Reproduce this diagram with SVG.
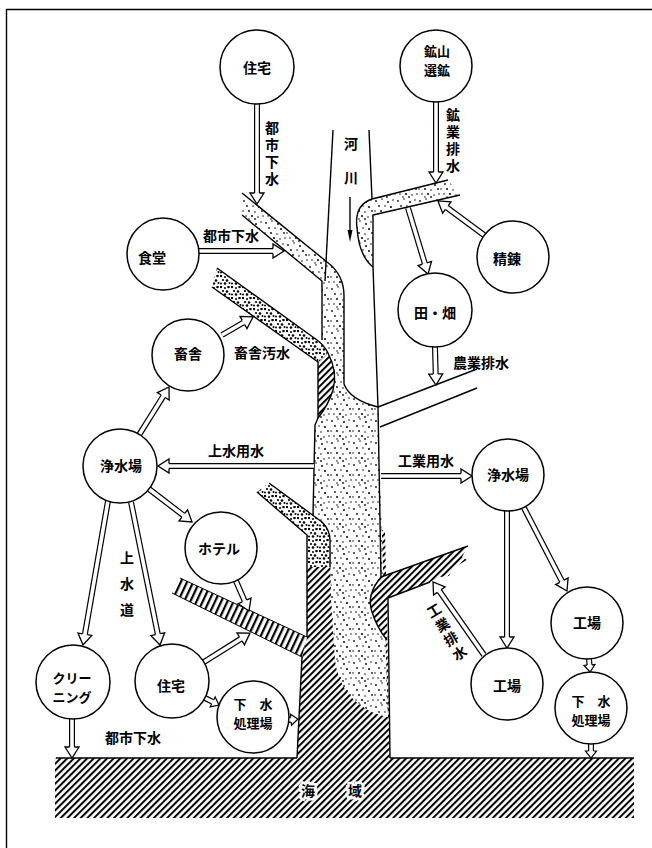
<svg xmlns="http://www.w3.org/2000/svg" width="652" height="848" viewBox="0 0 652 848">
<style>
.ln{fill:none;stroke:#000;stroke-width:1.4;stroke-linejoin:round}
.thin{fill:none;stroke:#000;stroke-width:1}
.node circle{fill:#fff;stroke:#000;stroke-width:1.5}
text{font-family:"Noto Sans CJK JP","Noto Sans CJK SC",sans-serif;font-size:14px;font-weight:700;fill:#000;text-anchor:middle;dominant-baseline:central}
.two{font-size:13px}
.v{writing-mode:vertical-rl}
.arr .o{fill:none;stroke:#000;stroke-width:6}
.arr .i{fill:none;stroke:#fff;stroke-width:3.6}
.sea-t{stroke:#fff;stroke-width:5;paint-order:stroke}
</style>
<defs>
  <!-- diagonal hatching for the sea and the sea-water column -->
  <pattern id="hatch" patternUnits="userSpaceOnUse" width="4.7" height="10" patternTransform="rotate(45)">
    <rect width="4.7" height="10" fill="#fff"/>
    <rect width="2" height="10" fill="#000"/>
  </pattern>
  <!-- steeper, heavier hatching for drain channels -->
  <pattern id="hatchB" patternUnits="userSpaceOnUse" width="5.6" height="10" patternTransform="rotate(25)">
    <rect width="5.6" height="10" fill="#fff"/>
    <rect width="2.2" height="10" fill="#000"/>
  </pattern>
  <!-- stipple for river water -->
  <pattern id="dots" patternUnits="userSpaceOnUse" width="22" height="22">
    <rect width="22" height="22" fill="#fff"/>
    <g fill="#111">
      <circle cx="2" cy="3" r=".9"/><circle cx="8" cy="1" r=".8"/><circle cx="14" cy="4" r="1"/>
      <circle cx="19" cy="2" r=".8"/><circle cx="5" cy="8" r=".9"/><circle cx="11" cy="8" r=".8"/>
      <circle cx="17" cy="9" r="1.1"/><circle cx="1" cy="13" r=".8"/><circle cx="7" cy="13" r="1"/>
      <circle cx="13" cy="14" r=".8"/><circle cx="20" cy="13" r=".9"/><circle cx="4" cy="18" r=".8"/>
      <circle cx="10" cy="18" r="1.1"/><circle cx="16" cy="19" r=".8"/><circle cx="21" cy="18" r=".8"/>
      <circle cx="7" cy="21" r=".8"/><circle cx="13" cy="21" r=".9"/>
    </g>
  </pattern>
  <!-- dense grit for sewage channels -->
  <pattern id="grit" patternUnits="userSpaceOnUse" width="11" height="11">
    <rect width="11" height="11" fill="#fff"/>
    <g fill="#000">
      <circle cx="1" cy="1" r="1.2"/><circle cx="5" cy="2" r="1"/><circle cx="8.5" cy="1" r="1.3"/>
      <circle cx="3" cy="5" r="1.1"/><circle cx="7" cy="5.5" r="1.3"/><circle cx="1" cy="8.5" r="1"/>
      <circle cx="5" cy="8.5" r="1.3"/><circle cx="9.5" cy="8" r="1"/>
    </g>
  </pattern>
  <!-- hollow arrowheads: origin at the head base -->
  <marker id="ah" markerUnits="userSpaceOnUse" orient="auto" refX="0" refY="0" markerWidth="1" markerHeight="1" overflow="visible">
    <path d="M0,-7 L11,0 L0,7 Z" fill="#fff"/>
    <path d="M0,-2.4 L0,-7 L11,0 L0,7 L0,2.4" fill="none" stroke="#000" stroke-width="1.3"/>
  </marker>
  <marker id="ahs" markerUnits="userSpaceOnUse" orient="auto" refX="0" refY="0" markerWidth="1" markerHeight="1" overflow="visible">
    <path d="M0,-5.5 L7,0 L0,5.5 Z" fill="#fff"/>
    <path d="M0,-2.4 L0,-5.5 L7,0 L0,5.5 L0,2.4" fill="none" stroke="#000" stroke-width="1.2"/>
  </marker>
</defs>

<g id="frame">
  <path class="ln" d="M6.5,848 L6.5,9.5 L652,9.5" stroke-width="1.6"/>
</g>

<g id="water">
  <rect x="55" y="758" width="579" height="60" fill="url(#hatch)"/>
  <path d="M297,758 L302,657 L307,637 L307,530 L385,530 L390,758 Z" fill="url(#hatch)"/>
  <path d="M242,193 L327,262 C338,270 344,280 344,296 L344,384 Q350,400 378,407 L383,570 L388,717 C360,712 338,690 335,660 L331,600 L330,540 Q328,528 320,522 L313,515 L315,425 L318,418 L318,362 L322,340 L322,281 L242,215 Z" fill="url(#dots)"/>
  <path d="M372,199 L448,180 L460,195 L373,215 L373,267 Q359,256 357,228 Q354,205 372,199 Z" fill="url(#dots)"/>
  <path d="M217,268 L317,340 Q324,345 328,353 L318,362 L212,287 Z" fill="url(#grit)"/>
  <path d="M269,483 L322,522 Q330,530 330,540 L330,567 L307,567 L307,535 L257,492 Z" fill="url(#grit)"/>
  <path d="M318,362 L328,353 Q338,372 333,390 Q328,406 318,418 Z" fill="url(#hatch)"/>
  <path d="M180,578 L307,637 L302,657 L172,593 Z" fill="url(#hatchB)"/>
  <path d="M381,577 L468,546 L462,557 L467,560 L453,568 L449,576 L440,577 L430,582 L388,598 L387,640 Q377,628 372,612 Q366,595 381,577 Z" fill="url(#hatch)"/>

  <path class="ln" d="M333,130 L325,281"/>
  <path class="ln" d="M369,130 L372,199"/>
  <path class="ln" d="M242,193 L327,262 C338,270 344,280 344,296 L344,384 Q350,400 378,407"/>
  <path class="ln" d="M242,215 L322,281 L322,340"/>
  <path class="ln" d="M372,199 L448,180"/>
  <path class="ln" d="M460,195 L373,215 L373,267 L378,407 L381,577"/>
  <path class="ln" d="M372,199 Q354,205 357,228 Q359,256 373,267"/>
  <path class="ln" d="M378,407 L477,369"/>
  <path class="ln" d="M380,427 L477,388"/>
  <path class="ln" d="M217,268 L317,340 Q324,345 328,353"/>
  <path class="ln" d="M212,287 L318,362 L318,418 L315,425 L313,515"/>
  <path class="ln" d="M328,353 Q338,372 333,390 Q328,406 318,418"/>
  <path class="ln" d="M269,483 L322,522 Q330,530 330,540 L330,567"/>
  <path class="ln" d="M257,492 L307,535 L307,637"/>
  <path class="ln" d="M302,657 L297,758"/>
  <path class="ln" d="M56,758 L297,758 M390,758 L634,758"/>
  <path class="ln" d="M381,577 L468,546"/>
  <path class="ln" d="M381,577 Q366,595 372,612 Q377,628 387,640"/>
  <path class="ln" d="M430,582 L388,598 L390,758"/>
  <path class="thin" d="M180,578 L307,637 M172,593 L302,657"/>
  <!-- river flow arrow -->
  <path class="ln" d="M350,197 L350,232" stroke-width="1.6"/>
  <path d="M347.5,230 L352.5,230 L350,242 Z" fill="#000"/>
  <text class="v" x="351" y="171" style="letter-spacing:20px">河川</text>
  <text class="sea-t"><tspan x="308" y="790">海</tspan><tspan x="355" y="790">域</tspan></text>
</g>

<g id="connectors">
  <g class="arr"><path class="o" d="M257,104 L257,193"/><path class="i" d="M257,104 L257,193" marker-end="url(#ah)"/></g>
  <g class="arr"><path class="o" d="M199,251 L273,251"/><path class="i" d="M199,251 L273,251" marker-end="url(#ah)"/></g>
  <g class="arr"><path class="o" d="M222,335 L243.5,322.5"/><path class="i" d="M222,335 L243.5,322.5" marker-end="url(#ah)"/></g>
  <g class="arr"><path class="o" d="M139.4,434.4 L163.2,396.3"/><path class="i" d="M139.4,434.4 L163.2,396.3" marker-end="url(#ah)"/></g>
  <g class="arr"><path class="o" d="M314,466 L169,466"/><path class="i" d="M314,466 L169,466" marker-end="url(#ah)"/></g>
  <g class="arr"><path class="o" d="M149,489 L183.3,515.3"/><path class="i" d="M149,489 L183.3,515.3" marker-end="url(#ah)"/></g>
  <g class="arr"><path class="o" d="M108,501 L84.9,634.2"/><path class="i" d="M108,501 L84.9,634.2" marker-end="url(#ah)"/></g>
  <g class="arr"><path class="o" d="M131,502 L157.8,634.2"/><path class="i" d="M131,502 L157.8,634.2" marker-end="url(#ah)"/></g>
  <g class="arr"><path class="o" d="M236,581 L244.6,600.9"/><path class="i" d="M236,581 L244.6,600.9" marker-end="url(#ah)"/></g>
  <g class="arr"><path class="o" d="M204,662 L240.7,638.9"/><path class="i" d="M204,662 L240.7,638.9" marker-end="url(#ah)"/></g>
  <g class="arr"><path class="o" d="M205,698 L212.7,701.9"/><path class="i" d="M205,698 L212.7,701.9" marker-end="url(#ahs)"/></g>
  <g class="arr"><path class="o" d="M288,720 L291,719.7"/><path class="i" d="M288,720 L291,719.7" marker-end="url(#ahs)"/></g>
  <g class="arr"><path class="o" d="M72,719 L72,747"/><path class="i" d="M72,719 L72,747" marker-end="url(#ah)"/></g>
  <g class="arr"><path class="o" d="M436,102 L436,172"/><path class="i" d="M436,102 L436,172" marker-end="url(#ah)"/></g>
  <g class="arr"><path class="o" d="M484,235 L446.8,207.5"/><path class="i" d="M484,235 L446.8,207.5" marker-end="url(#ah)"/></g>
  <g class="arr"><path class="o" d="M408,208 L424.8,263.5"/><path class="i" d="M408,208 L424.8,263.5" marker-end="url(#ah)"/></g>
  <g class="arr"><path class="o" d="M435,347 L435.7,374"/><path class="i" d="M435,347 L435.7,374" marker-end="url(#ah)"/></g>
  <g class="arr"><path class="o" d="M381,476 L461,476"/><path class="i" d="M381,476 L461,476" marker-end="url(#ah)"/></g>
  <g class="arr"><path class="o" d="M507,511 L507,637"/><path class="i" d="M507,511 L507,637" marker-end="url(#ah)"/></g>
  <g class="arr"><path class="o" d="M524,508 L561.9,581.2"/><path class="i" d="M524,508 L561.9,581.2" marker-end="url(#ah)"/></g>
  <g class="arr"><path class="o" d="M484,655 L439.3,591"/><path class="i" d="M484,655 L439.3,591" marker-end="url(#ah)"/></g>
  <g class="arr"><path class="o" d="M589,659 L589.5,665"/><path class="i" d="M589,659 L589.5,665" marker-end="url(#ahs)"/></g>
  <g class="arr"><path class="o" d="M591,744 L591,751"/><path class="i" d="M591,744 L591,751" marker-end="url(#ahs)"/></g>

  <!-- flow labels -->
  <text class="v" x="272" y="155" style="letter-spacing:3px">都市下水</text>
  <text x="231" y="235">都市下水</text>
  <text x="262" y="352">畜舎汚水</text>
  <text x="236" y="450">上水用水</text>
  <text x="426" y="460">工業用水</text>
  <text x="481" y="362">農業排水</text>
  <text x="133" y="737">都市下水</text>
  <text class="v" x="453" y="142" style="letter-spacing:3px">鉱業排水</text>
  <text class="v" x="127" y="590" style="letter-spacing:12px">上水道</text>
  <text class="v" transform="translate(447,632) rotate(-31)" x="0" y="1" style="letter-spacing:2.5px">工業排水</text>
</g>

<g id="n-house1" class="node"><circle cx="257" cy="67" r="37"/><text x="257" y="67">住宅</text></g>
<g id="n-mine" class="node"><circle cx="436" cy="66" r="36"/><text class="two"><tspan x="437" y="50">鉱山</tspan><tspan x="437" y="69">選鉱</tspan></text></g>
<g id="n-canteen" class="node"><circle cx="163" cy="254" r="36"/><text x="152" y="257">食堂</text></g>
<g id="n-smelter" class="node"><circle cx="513" cy="257" r="36"/><text x="507" y="258">精錬</text></g>
<g id="n-farm" class="node"><circle cx="435" cy="310" r="37"/><text x="435" y="312">田・畑</text></g>
<g id="n-barn" class="node"><circle cx="188" cy="355" r="36"/><text x="188" y="353">畜舎</text></g>
<g id="n-purify-l" class="node"><circle cx="120" cy="466" r="37"/><text x="121" y="465">浄水場</text></g>
<g id="n-hotel" class="node"><circle cx="221" cy="548" r="36"/><text x="219" y="548">ホテル</text></g>
<g id="n-purify-r" class="node"><circle cx="508" cy="475" r="36"/><text x="508" y="474">浄水場</text></g>
<g id="n-cleaning" class="node"><circle cx="73" cy="682" r="37"/><text class="two"><tspan x="72" y="677">クリー</tspan><tspan x="72" y="696">ニング</tspan></text></g>
<g id="n-house2" class="node"><circle cx="172" cy="681" r="37"/><text x="171" y="685">住宅</text></g>
<g id="n-sewage-l" class="node"><circle cx="253" cy="717" r="36"/><text class="two"><tspan x="253" y="703">下　水</tspan><tspan x="253" y="722">処理場</tspan></text></g>
<g id="n-factory1" class="node"><circle cx="507" cy="684" r="36"/><text x="507" y="685">工場</text></g>
<g id="n-factory2" class="node"><circle cx="587" cy="623" r="36"/><text x="587" y="622">工場</text></g>
<g id="n-sewage-r" class="node"><circle cx="591" cy="708" r="36"/><text class="two"><tspan x="591" y="699.5">下　水</tspan><tspan x="591" y="718.5">処理場</tspan></text></g>
</svg>
